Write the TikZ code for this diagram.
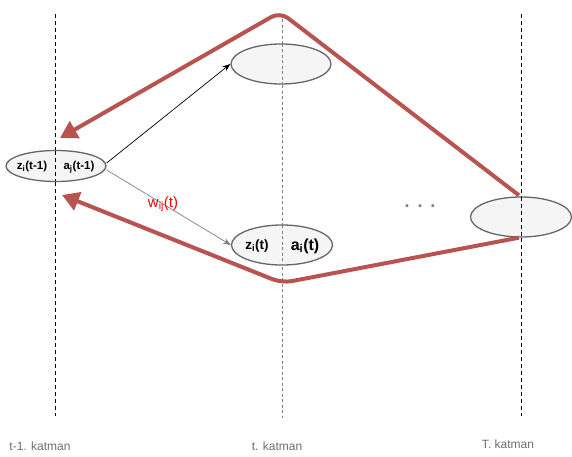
\documentclass[tikz,border=0pt]{standalone}
\usepackage{fontspec}
\setmainfont{Liberation Sans}
\usetikzlibrary{arrows.meta,shapes.geometric}
\definecolor{redline}{HTML}{B85450}
\definecolor{ellfill}{HTML}{F5F5F5}
\definecolor{ellline}{HTML}{666666}
\definecolor{lblgray}{HTML}{6E6E6E}
\definecolor{dotcol}{HTML}{6F8098}
\begin{document}
\begin{tikzpicture}[x=1pt,y=-1pt,
  cell/.style={ellipse,draw=ellline,fill=ellfill,line width=1.3pt,inner sep=0pt},
  layerline/.style={dashed,line width=0.8pt,dash pattern=on 4pt off 3pt},
  midline/.style={line width=1pt,draw=gray,dash pattern=on 3pt off 2.5pt},
  redarrow/.style={draw=redline,line width=4pt,rounded corners=10pt,-{Triangle[length=17pt,width=19pt]}},
  layerlbl/.style={text=lblgray,font=\fontsize{12}{14}\selectfont},
  celltxt/.style={font=\bfseries\fontsize{11.5}{14}\selectfont}]
\useasboundingbox (0,0) rectangle (572,457);
% layer lines
\coordinate (l1t) at (55,14); \coordinate (l1b) at (55,416);
\coordinate (l2t) at (282,14); \coordinate (l2b) at (282,418);
\coordinate (l3t) at (521,14); \coordinate (l3b) at (521,416);
\draw[layerline] (l1t) -- (l1b);
\draw[midline] (l2t) -- (l2b);
\draw[layerline] (l3t) -- (l3b);
% cells
\node[cell,minimum width=100pt,minimum height=31pt] (left) at (56,166) {};
\node[cell,minimum width=100pt,minimum height=40pt] (top) at (281,64) {};
\node[cell,minimum width=101pt,minimum height=40pt] (bot) at (282,245) {};
\node[cell,minimum width=101pt,minimum height=40pt] (right) at (521,217) {};
\draw[layerline] (55,151) -- (55,181);
\draw[midline] (282,44) -- (282,84);
\draw[midline] (282,225) -- (282,265);
\draw[layerline] (521,197) -- (521,237);
% texts
\node[celltxt] (lz) at (32,167) {z\textsubscript{i}(t-1)};
\node[celltxt] (la) at (79,167) {a\textsubscript{j}(t-1)};
\node[celltxt,font=\bfseries\fontsize{13.5}{15}\selectfont] (bz) at (257,246) {z\textsubscript{i}(t)};
\node[celltxt,font=\bfseries\fontsize{16}{18}\selectfont] (ba) at (305,246) {a\textsubscript{i}(t)};
% red paths
\coordinate (r1end) at (60,138);
\coordinate (r2end) at (62,195);
\coordinate (peak) at (280,12);
\coordinate (valley) at (282,283);
\draw[redarrow] (right.north) ++(-2,-1) -- (peak) -- (r1end);
\draw[redarrow] (right.south) ++(-2,0) -- (valley) -- (r2end);
% thin arrows
\draw[black,line width=0.7pt,-{Stealth[length=8pt,width=6pt]}] (left.east) ++(0,-3) -- (top.west);
\draw[gray,line width=0.7pt,-{Stealth[length=8pt,width=6pt]}] (left.east) ++(0,4) -- (bot.west);
\node[text=red,font=\fontsize{15}{17}\selectfont] (w) at (163,204) {w\textsubscript{ij}(t)};
% dots
\node[text=dotcol,font=\bfseries\fontsize{18}{18}\selectfont] (dots) at (420,206) {.\hspace{8pt}.\hspace{8pt}.};
% layer labels
\node[layerlbl] (lbl1) at (40,446) {t-1. katman};
\node[layerlbl] (lbl2) at (277,446) {t. katman};
\node[layerlbl] (lbl3) at (508,444) {T. katman};
\end{tikzpicture}
\end{document}
